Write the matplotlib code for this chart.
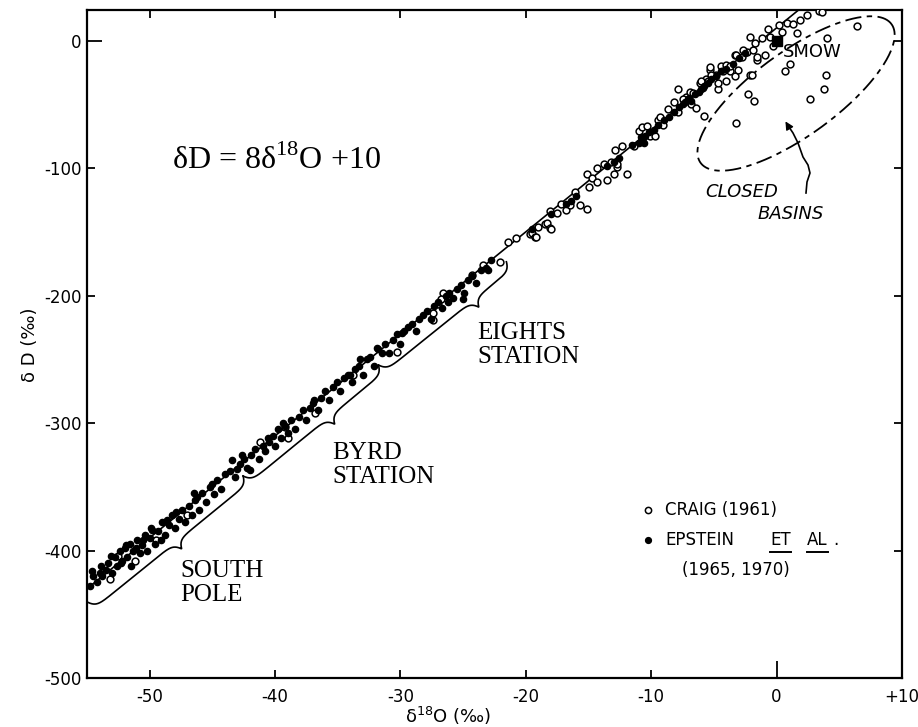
import numpy as np
import matplotlib
matplotlib.use('Agg')
import matplotlib.pyplot as plt
from matplotlib.lines import Line2D

plt.rcParams['font.family'] = ['DejaVu Sans']
plt.rcParams['axes.unicode_minus'] = False
plt.rcParams['mathtext.fontset'] = 'custom'
plt.rcParams['mathtext.rm'] = 'Liberation Serif'
plt.rcParams['mathtext.sf'] = 'DejaVu Sans'

# ---------------- data ----------------
# Epstein et al. (1965, 1970) - filled dots
epstein_d18o = [
    -54.8, -54.5, -54.2, -54.0, -53.8, -53.5, -53.3, -53.0, -52.8, -52.6,
    -52.4, -52.2, -52.0, -51.8, -51.6, -51.5, -51.3, -51.0, -50.8, -50.6,
    -50.4, -50.2, -50.0, -49.8, -49.6, -49.3, -49.0, -48.8, -48.5, -48.2,
    -48.0, -47.7, -47.4, -47.2, -46.9, -46.6, -46.5, -46.4, -46.1, -45.8,
    -45.5, -45.2, -44.9, -44.6, -44.3, -44.0,
    -43.6, -43.4, -43.2, -42.8, -42.6, -42.5, -42.2, -42.0, -41.9, -41.6,
    -41.3, -41.0, -40.8, -40.5, -40.2, -40.0, -39.8, -39.5, -39.2, -39.0,
    -38.7, -38.4, -38.1, -37.8, -37.5, -37.2, -36.9, -36.6, -36.3, -36.0,
    -35.7, -35.4, -35.1, -34.8, -34.5, -34.2, -33.9, -33.6, -33.3, -33.2,
    -33.0, -32.7, -32.4, -32.1, -31.9, -31.8, -31.5,
    -31.2, -30.9, -30.6, -30.3, -30.0, -29.7, -29.4, -29.1, -28.8, -28.5,
    -28.2, -27.9, -27.6, -27.3, -27.0, -26.7, -26.4, -26.1, -25.8, -25.5,
    -25.2, -25.0, -24.9, -24.6, -24.3, -24.0, -23.6, -23.2, -23.0, -22.8,
    -19.5, -18.0, -16.8, -16.4, -16.0, -13.5, -13.0, -12.6, -11.5, -11.0,
    -10.8, -10.6, -10.5, -10.2, -9.8, -9.5, -9.0, -8.6, -8.2, -7.8,
    -7.5, -7.3, -7.1, -7.0, -6.8, -6.5, -6.2, -6.0, -5.9, -5.8,
    -5.5, -5.2, -4.8, -4.4, -4.0, -3.5, -3.0, -2.5,
    -54.6, -53.9, -53.1, -52.3, -51.9, -51.1, -50.5, -49.9, -49.1, -48.6,
    -47.9, -46.2, -45.0, -43.0, -40.6, -39.4, -37.0, -34.0, -29.9, -26.2,
]
epstein_dD = [
    -428, -420, -425, -418, -420, -415, -410, -418, -405, -412,
    -400, -408, -398, -405, -395, -412, -400, -392, -402, -396,
    -388, -400, -390, -384, -395, -385, -378, -388, -380, -372,
    -382, -375, -368, -378, -365, -372, -355, -360, -368, -355,
    -362, -350, -356, -345, -352, -340,
    -338, -329, -342, -332, -325, -328, -335, -337, -325, -320,
    -328, -318, -322, -315, -310, -318, -305, -312, -302, -308,
    -298, -305, -295, -290, -298, -288, -282, -290, -280, -275,
    -282, -272, -268, -275, -265, -262, -268, -258, -255, -250,
    -262, -250, -248, -255, -241, -242, -245,
    -238, -245, -235, -230, -238, -228, -225, -222, -228, -218,
    -215, -212, -218, -208, -205, -210, -200, -198, -202, -195,
    -192, -203, -198, -188, -185, -190, -180, -178, -180, -172,
    -148, -136, -128, -126, -122, -98, -95, -92, -82, -80,
    -76, -80, -75, -72, -70, -66, -62, -60, -56, -52,
    -50, -48, -46, -45, -47, -42, -40, -38, -37, -36,
    -33, -30, -28, -24, -22, -18, -14, -10,
    -416, -412, -404, -410, -396, -398, -392, -382, -392, -376,
    -370, -358, -348, -336, -312, -300, -284, -262, -229, -205,
]

# Craig (1961) - open circles
craig_d18o = [
    -53.2, -52.5, -51.2, -49.5, -47.0, -41.2, -39.2, -39.0, -36.8, -33.8,
    -30.3, -27.4, -27.4, -27.0, -26.6, -26.8, -24.3, -23.4, -22.1, -21.4,
    -20.8, -19.7, -19.5, -19.3, -19.2, -19.0, -18.5, -18.3, -18.1, -18.0,
    -18.1, -17.5, -17.2, -16.8, -16.5, -16.1, -15.7, -15.1, -15.0, -15.1,
    -14.7, -14.3, -13.8, -13.2, -13.0, -13.5, -11.9, -12.7, -14.3, -12.7,
    -12.9, -12.3, -11.4, -11.0, -10.7, -10.1, -9.5, -9.1, -8.7, -8.2,
    -7.9, -7.9, -7.2, -6.9, -6.8, -6.4, -6.1, -5.6, -5.5, -5.3,
    -4.8, -4.7, -4.4, -4.0, -4.0, -3.7, -3.3, -3.3, -2.8, -2.4,
    -1.9, -1.6, -2.1, 2.4, 0.8, 1.3, 0.4, -0.7, -0.5, -2.1,
    1.6, 3.4, -1.7, -2.7, -3.2, -1.6, -0.9, -3.7, -3.1, -4.3,
    -5.2, -5.3, -6.0, -4.7, -6.7, -7.5, -9.3, -10.3, -9.7, -10.7,
    1.9, 0.2, -1.2, -0.3,
]
craig_dD = [
    -422, -404, -408, -392, -372, -315, -303, -312, -292, -262,
    -244, -214, -219, -207, -198, -203, -184, -176, -174, -158,
    -155, -152, -151, -154, -154, -146, -144, -143, -147, -148,
    -134, -135, -128, -133, -129, -119, -129, -132, -115, -105,
    -108, -111, -97, -95, -105, -109, -105, -99, -100, -97,
    -86, -83, -83, -71, -68, -75, -62, -66, -54, -48,
    -56, -38, -44, -40, -50, -53, -33, -30, -32, -23,
    -27, -38, -20, -19, -32, -24, -28, -11, -13, -9,
    -7, -15, -27, 20, 14, 13, 7, 9, 3, 3,
    6, 23, -2, -7, -11, -13, -11, -20, -23, -24,
    -27, -21, -32, -33, -41, -46, -60, -67, -75, -78,
    16, 12, 2, -4,
]

# Closed basins (Craig) - open circles below the line
basin_d18o = [6.4, 4.0, 0.7, 1.1, 3.9, 3.8, 2.7, -2.3, -1.8, -3.2, -2.0, -5.8, 3.6]
basin_dD = [11.8, 2.4, -23.5, -18, -26.7, -37.7, -45.5, -41.6, -47, -65, -26.7, -59, 22.8]

# SMOW
smow_d18o = [0.0]
smow_dD = [0.0]

# Meteoric water line  dD = 8 d18O + 10
line_d18o = [-55.0, 2.5]
line_dD = [-430.0, 30.0]

x_ticks = [-50, -40, -30, -20, -10, 0, 10]
x_tick_labels = ['-50', '-40', '-30', '-20', '-10', '0', '+10']
y_ticks = [-500, -400, -300, -200, -100, 0]
y_tick_labels = ['-500', '-400', '-300', '-200', '-100', '0']

# ---------------- figure ----------------
W, H = 918, 727
fig = plt.figure(figsize=(W / 100, H / 100), dpi=100)
ax = fig.add_axes([87 / W, 1 - 678 / H, (902 - 87) / W, (678 - 10) / H])
ax.set_xlim(-55, 10)
ax.set_ylim(-500, 24)

for sp in ax.spines.values():
    sp.set_linewidth(1.6)

ax.set_xticks(x_ticks)
ax.set_xticklabels(x_tick_labels)
ax.set_yticks(y_ticks)
ax.set_yticklabels(y_tick_labels)
ax.tick_params(direction='in', length=6, width=1.3, top=True, right=True,
               labelsize=12, colors='black')
ax.tick_params(axis='x', pad=7)
ax.tick_params(axis='y', pad=4)

# longer zero ticks on bottom & left
for t, loc in zip(ax.xaxis.get_major_ticks(), x_ticks):
    if loc == 0:
        t.tick1line.set_markersize(12)
for t, loc in zip(ax.yaxis.get_major_ticks(), y_ticks):
    if loc == 0:
        t.tick1line.set_markersize(11)

ax.plot(line_d18o, line_dD, color='black', lw=1.2, zorder=2)
ax.scatter(craig_d18o, craig_dD, s=24, facecolors='white', edgecolors='black',
           linewidths=1.1, zorder=3)
ax.scatter(basin_d18o, basin_dD, s=24, facecolors='white', edgecolors='black',
           linewidths=1.1, zorder=3)
ax.scatter(epstein_d18o, epstein_dD, s=20, color='black', zorder=4)
ax.plot(smow_d18o, smow_dD, marker='s', ms=7, color='black', ls='none', zorder=5)

T = ax.transData
Ti = T.inverted()


def brace(xa, ya, xb, yb, xn, r=9.0, w=4.0):
    p0 = T.transform((xa, ya))
    p1 = T.transform((xb, yb))
    d = p1 - p0
    L = np.hypot(*d)
    u = d / L
    n = np.array([-u[1], u[0]])
    pn = T.transform((xn, ya + (yb - ya) * (xn - xa) / (xb - xa)))
    sn = np.dot(pn - p0, u)
    s = np.linspace(0, L, 500)
    v = (r * np.exp(-s / w) + r * np.exp(-(L - s) / w)
         - r * np.exp(-np.abs(s - sn) / w))
    pts = p0 + np.outer(s, u) + np.outer(v, n)
    dd = Ti.transform(pts)
    ax.plot(dd[:, 0], dd[:, 1], color='black', lw=1.2, clip_on=False, zorder=2)


brace(-54.5, -446, -42.1, -347, -47.9)
brace(-42.1, -347, -31.3, -260, -35.7)
brace(-31.3, -260, -21.1, -179, -24.2)

# closed basins ellipse (in display units)
c = T.transform((1.55, -41.5))
tt = np.linspace(0, 2 * np.pi, 400)
th = np.radians(36)
a, b = 118, 42
EX = c[0] + a * np.cos(tt) * np.cos(th) - b * np.sin(tt) * np.sin(th)
EY = c[1] + a * np.cos(tt) * np.sin(th) + b * np.sin(tt) * np.cos(th)
ed = Ti.transform(np.column_stack([EX, EY]))
ax.plot(ed[:, 0], ed[:, 1], color='black', lw=1.3,
        linestyle=(0, (9, 3, 3, 3)), zorder=2)


def fp(px, py):
    return (px / W, 1 - py / H)


# arrow to closed basins
arr = [(806, 193), (807, 182), (810, 173), (808, 165), (803, 157),
       (798, 143), (793, 133), (789, 127)]
fig.add_artist(Line2D([p[0] / W for p in arr], [1 - p[1] / H for p in arr],
                      color='black', lw=1.2, transform=fig.transFigure))
fig.add_artist(matplotlib.patches.FancyArrowPatch(
    fp(790, 129), fp(784, 119), transform=fig.transFigure,
    arrowstyle='-|>', mutation_scale=12, color='black', lw=1.0))

# annotation texts
fig.text(*fp(783, 52), 'SMOW', fontsize=13, va='center', ha='left')
fig.text(*fp(705, 192), 'CLOSED', fontsize=13, style='italic', va='center', ha='left')
fig.text(*fp(758, 214), 'BASINS', fontsize=13, style='italic', va='center', ha='left')

serif = ['Liberation Serif', 'DejaVu Serif']
fig.text(*fp(172, 160), r'δD = 8δ$^{18}$O +10', fontsize=23, family=serif,
         va='center', ha='left')
fig.text(*fp(477, 345), 'EIGHTS\nSTATION', fontsize=18, family=serif,
         va='center', ha='left', linespacing=1.15)
fig.text(*fp(332, 465), 'BYRD\nSTATION', fontsize=18, family=serif,
         va='center', ha='left', linespacing=1.15)
fig.text(*fp(180, 583), 'SOUTH\nPOLE', fontsize=18, family=serif,
         va='center', ha='left', linespacing=1.15)

# legend
fig.add_artist(Line2D([648 / W], [1 - 510 / H], marker='o', ms=4.5, mfc='white',
                      mec='black', mew=1.1, ls='none', transform=fig.transFigure))
fig.add_artist(Line2D([648 / W], [1 - 540 / H], marker='o', ms=4.2, color='black',
                      ls='none', transform=fig.transFigure))
fig.text(*fp(665, 510), 'CRAIG (1961)', fontsize=12, va='center', ha='left')
fig.text(*fp(665, 540), 'EPSTEIN', fontsize=12, va='center', ha='left')
t_et = fig.text(*fp(770, 540), 'ET', fontsize=12, va='center', ha='left')
t_al = fig.text(*fp(807, 540), 'AL', fontsize=12, va='center', ha='left')
fig.text(*fp(833, 540), '.', fontsize=12, va='center', ha='left')
fig.text(*fp(682, 570), '(1965, 1970)', fontsize=12, va='center', ha='left')
r = fig.canvas.get_renderer()
for tx in (t_et, t_al):
    bb = tx.get_window_extent(r)
    fig.add_artist(Line2D([bb.x0 / W, bb.x1 / W], [(727 - 552) / H] * 2,
                          color='black', lw=1.4, transform=fig.transFigure))

# axis labels
fig.text(*fp(448, 716), r'δ$^{\mathsf{18}}$O (‰)', fontsize=13, va='center', ha='center')
fig.text(*fp(30, 345), 'δ D (‰)', fontsize=13, va='center', ha='center', rotation=90)

fig.savefig('out.png', dpi=100)
